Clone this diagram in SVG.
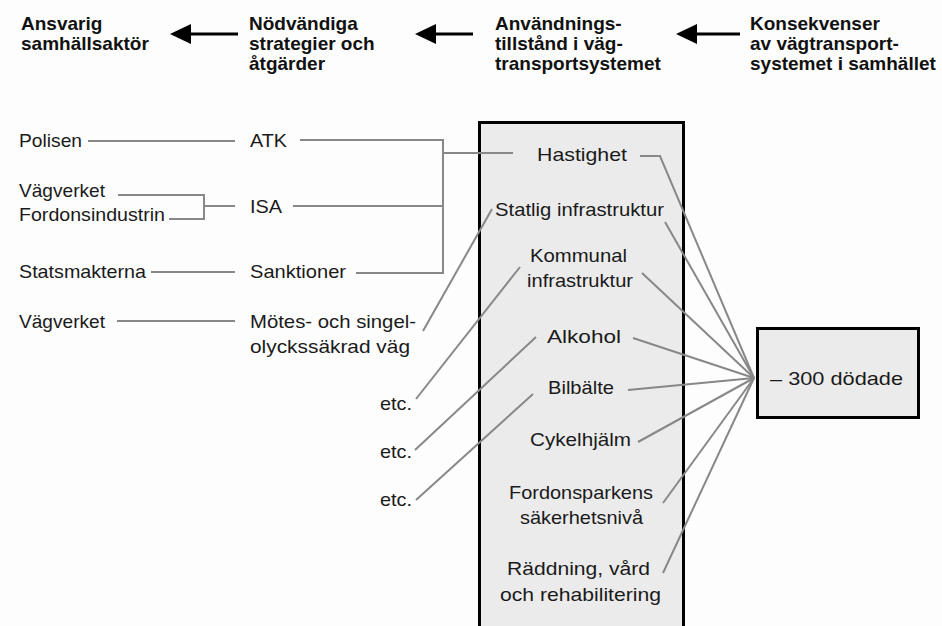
<svg xmlns="http://www.w3.org/2000/svg" width="942" height="626" viewBox="0 0 942 626">
<defs>
<style>
.h{font-family:"Liberation Sans",Arial,sans-serif;font-weight:bold;font-size:19px;fill:#111}
.t{font-family:"Liberation Sans",Arial,sans-serif;font-size:19px;fill:#1a1a1a}
.ln{stroke:#888;stroke-width:2;fill:none}
.ar{stroke:#000;stroke-width:3;fill:none}
.box{fill:#ebebeb;stroke:#000;stroke-width:3}
</style>
</defs>
<rect width="942" height="626" fill="#fdfdfd"/>
<g id="headers">
<text class="h" x="21" y="30">Ansvarig</text>
<text class="h" x="21" y="50">samhällsaktör</text>
<text class="h" x="249" y="30">Nödvändiga</text>
<text class="h" x="249" y="50">strategier och</text>
<text class="h" x="249" y="70">åtgärder</text>
<text class="h" x="495" y="30">Användnings-</text>
<text class="h" x="495" y="50">tillstånd i väg-</text>
<text class="h" x="495" y="70">transportsystemet</text>
<text class="h" x="750" y="30">Konsekvenser</text>
<text class="h" x="750" y="50">av vägtransport-</text>
<text class="h" x="750" y="70">systemet i samhället</text>
</g>
<g id="header-arrows">
<line class="ar" x1="188" y1="34" x2="238" y2="34"/>
<polygon points="170,34 191,24 191,44" fill="#000"/>
<line class="ar" x1="433" y1="34" x2="473" y2="34"/>
<polygon points="415,34 436,24 436,44" fill="#000"/>
<line class="ar" x1="694" y1="34" x2="740" y2="34"/>
<polygon points="676,34 697,24 697,44" fill="#000"/>
</g>
<g id="state-box"><rect class="box" x="479.5" y="122.5" width="204" height="520"/></g>
<g id="result-box"><rect class="box" x="757.5" y="328.5" width="161" height="89"/>
<text class="t" x="770" y="385" textLength="133" lengthAdjust="spacingAndGlyphs">– 300 dödade</text></g>
<g id="connectors">
<line class="ln" x1="88" y1="141" x2="235" y2="141"/>
<polyline class="ln" points="118,195 204,195 204,219 169,219"/>
<line class="ln" x1="204" y1="206" x2="235" y2="206"/>
<line class="ln" x1="151" y1="272" x2="235" y2="272"/>
<line class="ln" x1="117" y1="321" x2="235" y2="321"/>
<polyline class="ln" points="300,140 443,140 443,273 356,273"/>
<line class="ln" x1="293" y1="206" x2="443" y2="206"/>
<line class="ln" x1="443" y1="153" x2="513" y2="153"/>
<line class="ln" x1="423" y1="331" x2="492" y2="209"/>
<line class="ln" x1="416" y1="399" x2="520" y2="267"/>
<line class="ln" x1="415" y1="450" x2="536" y2="337"/>
<line class="ln" x1="416" y1="500" x2="533" y2="394"/>
<polyline class="ln" points="640,156 660,156 754,378"/>
<line class="ln" x1="665" y1="222" x2="754" y2="378"/>
<line class="ln" x1="642" y1="273" x2="754" y2="378"/>
<line class="ln" x1="633" y1="338" x2="754" y2="378"/>
<line class="ln" x1="628" y1="390" x2="754" y2="378"/>
<line class="ln" x1="638" y1="442" x2="754" y2="378"/>
<line class="ln" x1="663" y1="503" x2="754" y2="378"/>
<line class="ln" x1="663" y1="573" x2="754" y2="378"/>
</g>
<g id="actors">
<text class="t" x="19" y="147" textLength="63" lengthAdjust="spacingAndGlyphs">Polisen</text>
<text class="t" x="19" y="197" textLength="86" lengthAdjust="spacingAndGlyphs">Vägverket</text>
<text class="t" x="19" y="221" textLength="146" lengthAdjust="spacingAndGlyphs">Fordonsindustrin</text>
<text class="t" x="19" y="278" textLength="127" lengthAdjust="spacingAndGlyphs">Statsmakterna</text>
<text class="t" x="19" y="328" textLength="86" lengthAdjust="spacingAndGlyphs">Vägverket</text>
</g>
<g id="measures">
<text class="t" x="250" y="147" textLength="37" lengthAdjust="spacingAndGlyphs">ATK</text>
<text class="t" x="250" y="213" textLength="32" lengthAdjust="spacingAndGlyphs">ISA</text>
<text class="t" x="250" y="278" textLength="96" lengthAdjust="spacingAndGlyphs">Sanktioner</text>
<text class="t" x="250" y="328" textLength="166" lengthAdjust="spacingAndGlyphs">Mötes- och singel-</text>
<text class="t" x="250" y="353" textLength="160" lengthAdjust="spacingAndGlyphs">olyckssäkrad väg</text>
<text class="t" x="380" y="410" textLength="32" lengthAdjust="spacingAndGlyphs">etc.</text>
<text class="t" x="380" y="458" textLength="32" lengthAdjust="spacingAndGlyphs">etc.</text>
<text class="t" x="380" y="506" textLength="32" lengthAdjust="spacingAndGlyphs">etc.</text>
</g>
<g id="states">
<text class="t" x="537" y="161" textLength="90" lengthAdjust="spacingAndGlyphs">Hastighet</text>
<text class="t" x="495" y="216" textLength="169" lengthAdjust="spacingAndGlyphs">Statlig infrastruktur</text>
<text class="t" x="530" y="262" textLength="97" lengthAdjust="spacingAndGlyphs">Kommunal</text>
<text class="t" x="527" y="287" textLength="106" lengthAdjust="spacingAndGlyphs">infrastruktur</text>
<text class="t" x="547" y="343" textLength="74" lengthAdjust="spacingAndGlyphs">Alkohol</text>
<text class="t" x="548" y="394" textLength="66" lengthAdjust="spacingAndGlyphs">Bilbälte</text>
<text class="t" x="530" y="446" textLength="101" lengthAdjust="spacingAndGlyphs">Cykelhjälm</text>
<text class="t" x="509" y="499" textLength="144" lengthAdjust="spacingAndGlyphs">Fordonsparkens</text>
<text class="t" x="520" y="524" textLength="123" lengthAdjust="spacingAndGlyphs">säkerhetsnivå</text>
<text class="t" x="507" y="575" textLength="143" lengthAdjust="spacingAndGlyphs">Räddning, vård</text>
<text class="t" x="500" y="601" textLength="161" lengthAdjust="spacingAndGlyphs">och rehabilitering</text>
</g>
</svg>
